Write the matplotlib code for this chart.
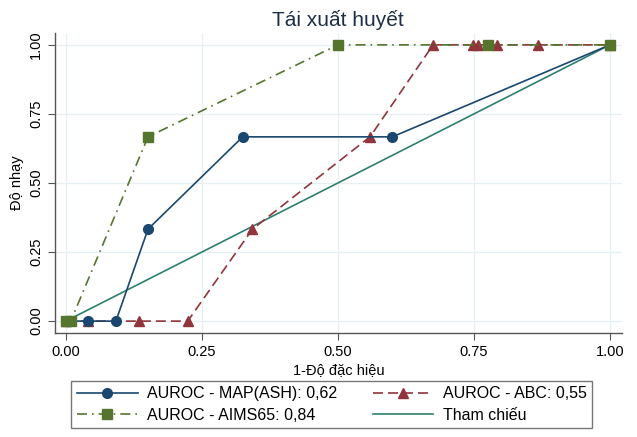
import matplotlib
matplotlib.use("Agg")
import matplotlib.pyplot as plt

plt.rcParams['font.family'] = ['Liberation Sans', 'DejaVu Sans']

# Du lieu doc tu hinh (1-do dac hieu, do nhay)
map_x = [0.0, 0.041, 0.092, 0.151, 0.325, 0.600, 1.0]
map_y = [0.0, 0.0, 0.0, 0.333, 0.667, 0.667, 1.0]

abc_x = [0.0, 0.041, 0.134, 0.224, 0.343, 0.559, 0.675, 0.748, 0.757, 0.793, 0.867, 1.0]
abc_y = [0.0, 0.0, 0.0, 0.0, 0.333, 0.667, 1.0, 1.0, 1.0, 1.0, 1.0, 1.0]

aims_x = [0.0, 0.009, 0.151, 0.5, 0.775, 1.0]
aims_y = [0.0, 0.0, 0.667, 1.0, 1.0, 1.0]

ref_x = [0.0, 1.0]
ref_y = [0.0, 1.0]

labels = ["AUROC - MAP(ASH): 0,62", "AUROC - ABC: 0,55",
          "AUROC - AIMS65: 0,84", "Tham chiếu"]
ticks = [0.0, 0.25, 0.5, 0.75, 1.0]
tick_labels = ["0.00", "0.25", "0.50", "0.75", "1.00"]

fig = plt.figure(figsize=(6.37, 4.37), dpi=100)
ax = fig.add_axes([0.0863, 0.238, 0.890, 0.6865])

l1, = ax.plot(map_x, map_y, color='#1a476f', marker='o', markersize=7, lw=1.2, zorder=4)
l2, = ax.plot(abc_x, abc_y, color='#90353b', marker='^', markersize=7, lw=1.2,
              dashes=(6, 3), zorder=3)
l3, = ax.plot(aims_x, aims_y, color='#55752f', marker='s', markersize=7, lw=1.2,
              dashes=(6, 3, 1, 3), zorder=5)
l4, = ax.plot(ref_x, ref_y, color='#2e7f6f', lw=1.2, zorder=2)

ax.set_xlim(-0.020, 1.022)
ax.set_ylim(-0.043, 1.043)
ax.set_xticks(ticks)
ax.set_xticklabels(tick_labels)
ax.set_yticks(ticks)
ax.set_yticklabels(tick_labels, rotation=90, va='center')
ax.tick_params(direction='out', length=5, width=0.8, labelsize=10.5, color='#555555')
ax.grid(True, color='#e6eff1', lw=0.9)
ax.set_axisbelow(True)
for s in ['top', 'right']:
    ax.spines[s].set_visible(False)
for s in ['left', 'bottom']:
    ax.spines[s].set_color('#555555')
    ax.spines[s].set_linewidth(1.0)

fig.suptitle("Tái xuất huyết", fontsize=15, color='#1e2f45', x=0.531, y=0.978)
ax.set_xlabel("1-Độ đặc hiệu", fontsize=10.5, labelpad=3)
ax.set_ylabel("Độ nhạy", fontsize=10.5, labelpad=4)

# matplotlib dien theo cot -> doi thu tu de giong hang
leg = fig.legend([l1, l3, l2, l4], [labels[0], labels[2], labels[1], labels[3]],
                 ncol=2, loc='lower center', bbox_to_anchor=(0.521, 0.002),
                 fontsize=11.5, frameon=True, fancybox=False, edgecolor='#555555',
                 handlelength=3.8, handletextpad=0.6, columnspacing=2.2,
                 borderpad=0.35, labelspacing=0.4)
leg.get_frame().set_linewidth(1.0)

fig.savefig("out.png", dpi=100)
